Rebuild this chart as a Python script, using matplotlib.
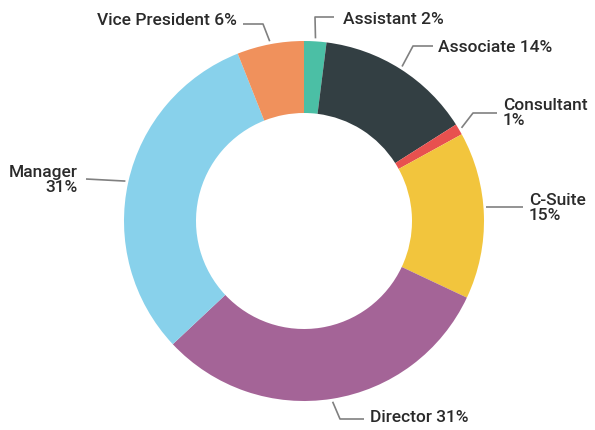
import numpy as np
import matplotlib
matplotlib.use("Agg")
import matplotlib.pyplot as plt

# ---- data ----
categories = ["Assistant", "Associate", "Consultant", "C-Suite", "Director", "Manager", "Vice President"]
shares = [2, 14, 1, 15, 31, 31, 6]
label_texts = ["Assistant 2%", "Associate 14%", "Consultant\n1%", "C-Suite\n15%",
               "Director 31%", "Manager\n31%", "Vice President 6%"]
colors = ["#4bbfa5", "#333f43", "#e8514f", "#f2c53d", "#a46497", "#88d1eb", "#f0915c"]

# ---- layout (pixel coords, origin top-left) ----
W, H = 595, 431
CX, CY, R, RING = 304, 222, 180, 72
# text anchor (x, y, ha), elbow point, line end near text, snap = start line on ring at end's height
layout = {
    "Assistant":      dict(text=(343, 19, "left"),  elbow=(315, 18),  end=(334, 18),  snap=False),
    "Associate":      dict(text=(438, 47, "left"),  elbow=(413, 47),  end=(433, 47),  snap=False),
    "Consultant":     dict(text=(503, 113, "left"), elbow=(473, 114), end=(497, 114), snap=False),
    "C-Suite":        dict(text=(529, 208, "left"), elbow=None,       end=(523, 208), snap=True),
    "Director":       dict(text=(370, 418, "left"), elbow=(340, 420), end=(364, 420), snap=False),
    "Manager":        dict(text=(78, 180, "right"), elbow=None,       end=(86, 180),  snap=False),
    "Vice President": dict(text=(237, 20, "right"), elbow=(263, 25),  end=(243, 25),  snap=False),
}

plt.rcParams['font.family'] = ['Roboto', 'DejaVu Sans']

fig = plt.figure(figsize=(W / 100, H / 100), dpi=100)
ax = fig.add_axes([0, 0, 1, 1])

wedges, _ = ax.pie(shares, colors=colors, startangle=90, counterclock=False,
                   radius=R, center=(CX, H - CY),
                   wedgeprops=dict(width=RING, edgecolor="none", linewidth=0))
ax.set_xlim(0, W)
ax.set_ylim(0, H)
ax.set_aspect("equal")
ax.axis("off")

line_color = "#808080"
text_color = "#2a2a2a"
for w, cat, lab in zip(wedges, categories, label_texts):
    L = layout[cat]
    mid = np.deg2rad((w.theta1 + w.theta2) / 2)
    if L["snap"]:
        dy = (H - L["end"][1]) - (H - CY)
        ax_y = H - L["end"][1]
        ax_x = CX + np.sign(np.cos(mid)) * np.sqrt((R + 3) ** 2 - dy ** 2)
    else:
        ax_x = CX + (R + 3) * np.cos(mid)
        ax_y = (H - CY) + (R + 3) * np.sin(mid)
    xs = [ax_x]
    ys = [ax_y]
    if L["elbow"] is not None:
        xs.append(L["elbow"][0]); ys.append(H - L["elbow"][1])
    xs.append(L["end"][0]); ys.append(H - L["end"][1])
    ax.plot(xs, ys, color=line_color, lw=1.2, solid_capstyle="butt")
    tx, ty, ha = L["text"]
    ax.text(tx, H - ty, lab, ha=ha, va="center", fontsize=12.5, fontweight="medium",
            color=text_color, linespacing=0.95, multialignment=ha)

fig.savefig("out.png", dpi=100, facecolor="white")
